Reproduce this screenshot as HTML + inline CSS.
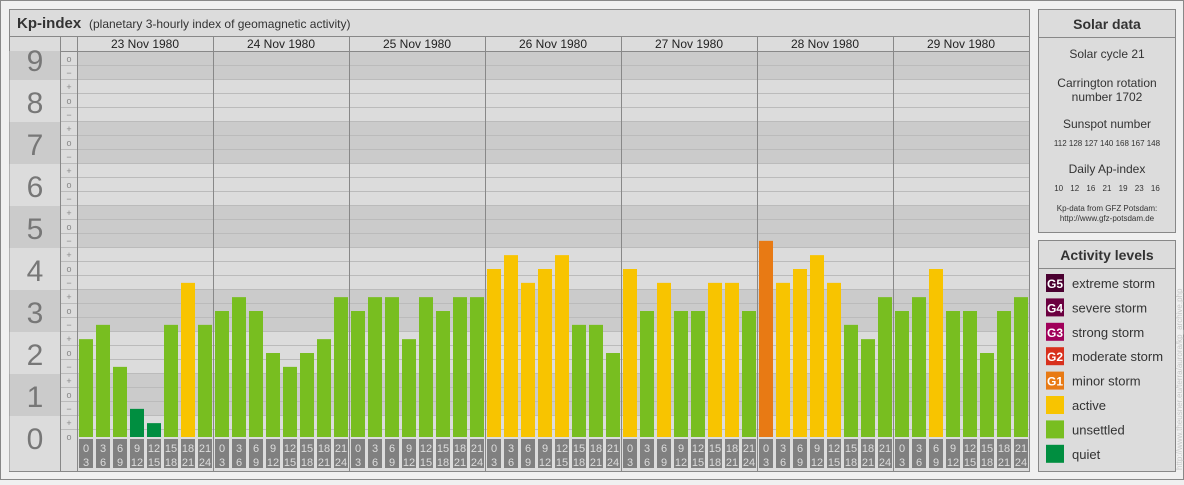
<!DOCTYPE html>
<html><head><meta charset="utf-8"><style>
body{margin:0;background:#f0f0f0;font-family:"Liberation Sans",sans-serif}
svg text{font-family:"Liberation Sans",sans-serif}
</style></head><body>
<svg id="c" width="1184" height="480" xmlns="http://www.w3.org/2000/svg">
<rect x="0.5" y="0.5" width="1183" height="479" fill="#f0f0f0" stroke="#888"/>
<rect x="9.5" y="9.5" width="1020" height="462" fill="#dcdcdc" stroke="#888"/>
<line x1="9" y1="36.5" x2="1029" y2="36.5" stroke="#888"/>
<text x="17" y="28" font-size="15" font-weight="bold" fill="#333">Kp-index</text>
<text x="89" y="28" font-size="12" fill="#333">(planetary 3-hourly index of geomagnetic activity)</text>
<g id="grid"></g>
<g id="bars"></g>
<g id="hours"></g>
<!-- right panels -->
<rect x="1038.5" y="9.5" width="137" height="223" fill="#dcdcdc" stroke="#888"/>
<line x1="1038" y1="37.5" x2="1176" y2="37.5" stroke="#888"/>
<text x="1107" y="29" font-size="14" font-weight="bold" fill="#333" text-anchor="middle">Solar data</text>
<g font-size="12" fill="#333" text-anchor="middle">
<text x="1107" y="58">Solar cycle 21</text>
<text x="1107" y="87">Carrington rotation</text>
<text x="1107" y="101">number 1702</text>
<text x="1107" y="128">Sunspot number</text>
<text x="1107" y="173">Daily Ap-index</text>
</g>
<g font-size="8" fill="#333" text-anchor="middle">
<text x="1107" y="146">112 128 127 140 168 167 148</text>
<text x="1107" y="191" word-spacing="5">10 12 16 21 19 23 16</text>
<text x="1107" y="211">Kp-data from GFZ Potsdam:</text>
<text x="1107" y="221">http://www.gfz-potsdam.de</text>
</g>
<rect x="1038.5" y="240.5" width="137" height="231" fill="#dcdcdc" stroke="#888"/>
<line x1="1038" y1="268.5" x2="1176" y2="268.5" stroke="#888"/>
<text x="1107" y="260" font-size="14" font-weight="bold" fill="#333" text-anchor="middle">Activity levels</text>
<g id="legend"></g>
<text transform="translate(1182,470) rotate(-90)" font-size="8" fill="#c8c8c8">http://www.theusner.eu/terra/aurora/kp_archive.php</text>
</svg>
<script>
const days=["23 Nov 1980","24 Nov 1980","25 Nov 1980","26 Nov 1980","27 Nov 1980","28 Nov 1980","29 Nov 1980"];
const kpValues=[2.33,2.67,1.67,0.67,0.33,2.67,3.67,2.67,
 3,3.33,3,2,1.67,2,2.33,3.33,
 3,3.33,3.33,2.33,3.33,3,3.33,3.33,
 4,4.33,3.67,4,4.33,2.67,2.67,2,
 4,3,3.67,3,3,3.67,3.67,3,
 4.67,3.67,4,4.33,3.67,2.67,2.33,3.33,
 3,3.33,4,3,3,2,3,3.33];
const hourStarts=["0","3","6","9","12","15","18","21"];
const hourEnds=["3","6","9","12","15","18","21","24"];
const legendLabels=["extreme storm","severe storm","strong storm","moderate storm","minor storm","active","unsettled","quiet"];
const legendCodes=["G5","G4","G3","G2","G1","","",""];
const legendColors=["#4a0030","#6b0040","#a0005a","#d8301c","#e87a14","#f8c400","#78be20","#008e40"];
const NS="http://www.w3.org/2000/svg";
function mk(t,a,p,txt){const e=document.createElementNS(NS,t);for(const k in a)e.setAttribute(k,a[k]);if(txt!==undefined)e.textContent=txt;p.appendChild(e);return e;}
const y=v=>437-v*42;
const x0=77,dayW=136,slot=17;
const grid=document.getElementById('grid'),bars=document.getElementById('bars'),hours=document.getElementById('hours'),legend=document.getElementById('legend');
// bands
for(let k=0;k<=9;k++){
 const top=Math.max(51,y(k+0.5)),bot=Math.min(471,k==0?471:y(k-0.5));
 const col=k%2? "#cbcbcb":"#dcdcdc";
 const b=mk('rect',{x:9.5,y:top,width:51,height:bot-top,fill:col},grid);
 
 
 if(k>0||true){const r=mk('rect',{x:x0,y:top,width:952,height:Math.min(y(k-0.5),437)-top,fill:col},grid);
 
 }
 const t=mk('text',{x:35,y:y(k)+12,'font-size':30,fill:'#777','text-anchor':'middle'},grid,String(k));
 
 
}
mk('rect',{x:60,y:37,width:17,height:434,fill:'#dcdcdc'},grid);
for(let n=0;n<=27;n++){
 const yy=437-14*n;
 if(n<27){mk('line',{x1:x0,x2:1029,y1:yy-7.5,y2:yy-7.5,stroke:'#bbb'},grid);mk('line',{x1:60,x2:77,y1:yy-7.5,y2:yy-7.5,stroke:'#bbb'},grid);}
 const s=["o","+","−"][n%3];
 const t=mk('text',{x:69,y:yy+3,'font-size':9,fill:'#888','text-anchor':'middle'},grid,s);
 
 
}
mk('rect',{x:x0,y:37,width:952,height:14,fill:'#dcdcdc'},grid);
mk('line',{x1:60,x2:1029,y1:51.5,y2:51.5,stroke:'#888'},grid);
mk('line',{x1:60.5,x2:60.5,y1:37,y2:471,stroke:'#888'},grid);
mk('line',{x1:77.5,x2:77.5,y1:37,y2:471,stroke:'#888'},grid);
days.forEach((d,i)=>{
 const t=mk('text',{x:x0+i*dayW+dayW/2,y:48,'font-size':12,fill:'#222','text-anchor':'middle'},grid,d);
 
 
 if(i>0)mk('line',{x1:x0+i*dayW+0.5,x2:x0+i*dayW+0.5,y1:37,y2:471,stroke:'#888'},grid);
});
const color=v=>v>=4.67?"#e87a14":v>=3.67?"#f8c400":v>=1.67?"#78be20":"#008e40";
kpValues.forEach((v,i)=>{
 const bx=x0+i*slot+2;
 const r=mk('rect',{x:bx,y:y(v),width:14,height:437-y(v),fill:color(v)},bars);
 
 
 const h=i%8;
 const b=mk('rect',{x:bx,y:439,width:14,height:29,fill:'#808080'},hours);
 
 
 mk('text',{x:bx+7,y:452,'font-size':11,fill:'#ddd','text-anchor':'middle'},hours,hourStarts[h]);
 mk('text',{x:bx+7,y:466,'font-size':11,fill:'#ddd','text-anchor':'middle'},hours,hourEnds[h]);
});
legendLabels.forEach((l,i)=>{
 const yy=274+i*24.4;
 const r=mk('rect',{x:1046,y:yy,width:18,height:18,fill:legendColors[i]},legend);
 
 
 if(legendCodes[i])mk('text',{x:1055,y:yy+14,'font-size':12,'font-weight':'bold',fill:'#fff','text-anchor':'middle'},legend,legendCodes[i]);
 const t=mk('text',{x:1072,y:yy+14,'font-size':13,fill:'#333'},legend,l);
 
 
});
</script>
</body></html>
